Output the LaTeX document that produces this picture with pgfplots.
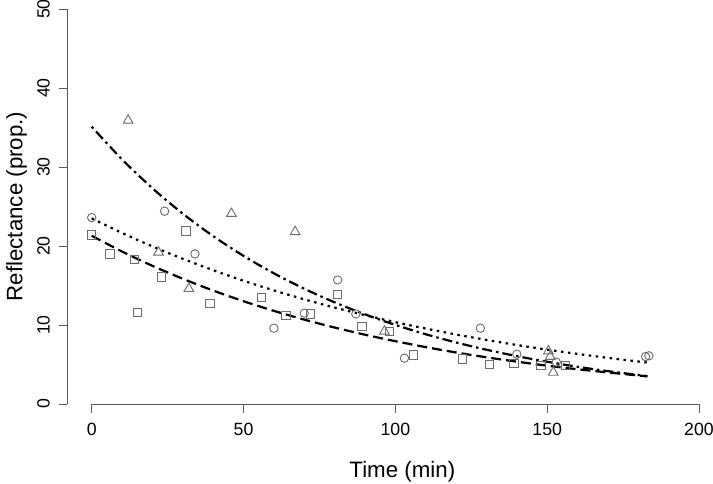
\documentclass[border=0pt]{standalone}
\usepackage{fontspec}
\setmainfont{Liberation Sans}
\usepackage{graphicx}
\usepackage{pgfplots}
\pgfplotsset{compat=1.18}

\definecolor{ptgray}{gray}{0.42}
\definecolor{axgray}{gray}{0.35}

\begin{document}
\begin{tikzpicture}
\useasboundingbox (0,0) rectangle (713bp,484bp);
\begin{axis}[
    at={(67.4bp,80bp)}, anchor=south west,
    scale only axis, width=655.9bp, height=395bp,
    xmin=-8, xmax=208, ymin=0, ymax=50,
    clip=false,
    axis lines*=left,
    axis line style={draw=none},
    xtick={0,50,...,200}, ytick={0,10,...,50},
    tick align=outside, tick pos=left,
    major tick length=8.5bp,
    tick style={axgray, line width=0.8bp},
    ticklabel style={font=\fontsize{17.7bp}{20bp}\selectfont},
    /pgf/number format/assume math mode=true,
    xticklabel style={yshift=-7bp},
    yticklabel={\rotatebox{90}{\pgfmathprintnumber{\tick}}},
    yticklabel style={anchor=east, xshift=-5.7bp},
    xlabel={Time (min)}, ylabel={Reflectance (prop.)},
    every axis x label/.style={at={(axis description cs:0.5,0)}, xshift=7bp, yshift=-73.3bp,
        anchor=base, font=\fontsize{22.3bp}{26bp}\selectfont},
    every axis y label/.style={at={(axis description cs:0,0.5)}, xshift=-45bp, rotate=90,
        anchor=base, font=\fontsize{22.3bp}{26bp}\selectfont},
]
% axis lines as R draws them: from first to last tick
\draw[axgray, line width=0.8bp] (axis cs:0,0) -- (axis cs:200,0);
\draw[axgray, line width=0.8bp] (axis cs:-8,0) -- (axis cs:-8,50);

% observations
\addplot[only marks, mark=square, mark size=4.2bp, ptgray, mark options={line width=0.9bp}]
coordinates {(0,21.4) (6,19.0) (14,18.3) (15,11.6) (23,16.1) (31,21.9) (39,12.7)
 (56,13.5) (64,11.2) (72,11.4) (81,13.9) (89,9.8) (98,9.2) (106,6.2) (122,5.7)
 (131,5.0) (139,5.1) (148,4.9) (156,4.9)};
\addplot[only marks, mark=o, mark size=4.2bp, ptgray, mark options={line width=0.9bp}]
coordinates {(0,23.6) (24,24.4) (34,19.0) (60,9.6) (70,11.5) (81,15.7) (87,11.4)
 (103,5.8) (128,9.6) (140,6.3) (153,5.3) (182.4,6.0) (183.5,6.1)};
\addplot[only marks, mark=triangle, mark size=5.6bp, ptgray, mark options={line width=0.9bp}]
coordinates {(12,35.9) (22,19.2) (32,14.6) (46,24.1) (67,21.8) (96.4,9.2)
 (150.4,6.7) (151,6.0) (152,4.0)};

% fitted decay curves
\addplot[black, line width=2.2bp, smooth, dash pattern=on 10bp off 5bp]
coordinates {(0,21.30) (10,19.30) (20,17.49) (30,15.85) (40,14.36) (50,13.01)
 (60,11.79) (70,10.68) (80,9.68) (90,8.77) (100,7.95) (110,7.20) (120,6.52)
 (130,5.91) (140,5.36) (150,4.85) (160,4.40) (170,3.99) (180,3.61) (183,3.50)};
\addplot[black, line width=2.2bp, smooth, dash pattern=on 2.5bp off 4.5bp]
coordinates {(0,23.50) (10,21.65) (20,19.95) (30,18.38) (40,16.94) (50,15.60)
 (60,14.38) (70,13.25) (80,12.21) (90,11.25) (100,10.36) (110,9.55) (120,8.80)
 (130,8.11) (140,7.47) (150,6.88) (160,6.34) (170,5.84) (180,5.38) (183,5.25)};
\addplot[black, line width=2.2bp, smooth, dash pattern=on 2.5bp off 4bp on 10bp off 4bp]
coordinates {(0,35.10) (10,30.96) (20,27.31) (30,24.09) (40,21.25) (50,18.75)
 (60,16.54) (70,14.59) (80,12.87) (90,11.35) (100,10.01) (110,8.83) (120,7.79)
 (130,6.87) (140,6.06) (150,5.35) (160,4.71) (170,4.16) (180,3.67) (183,3.53)};
\end{axis}
\end{tikzpicture}
\end{document}
